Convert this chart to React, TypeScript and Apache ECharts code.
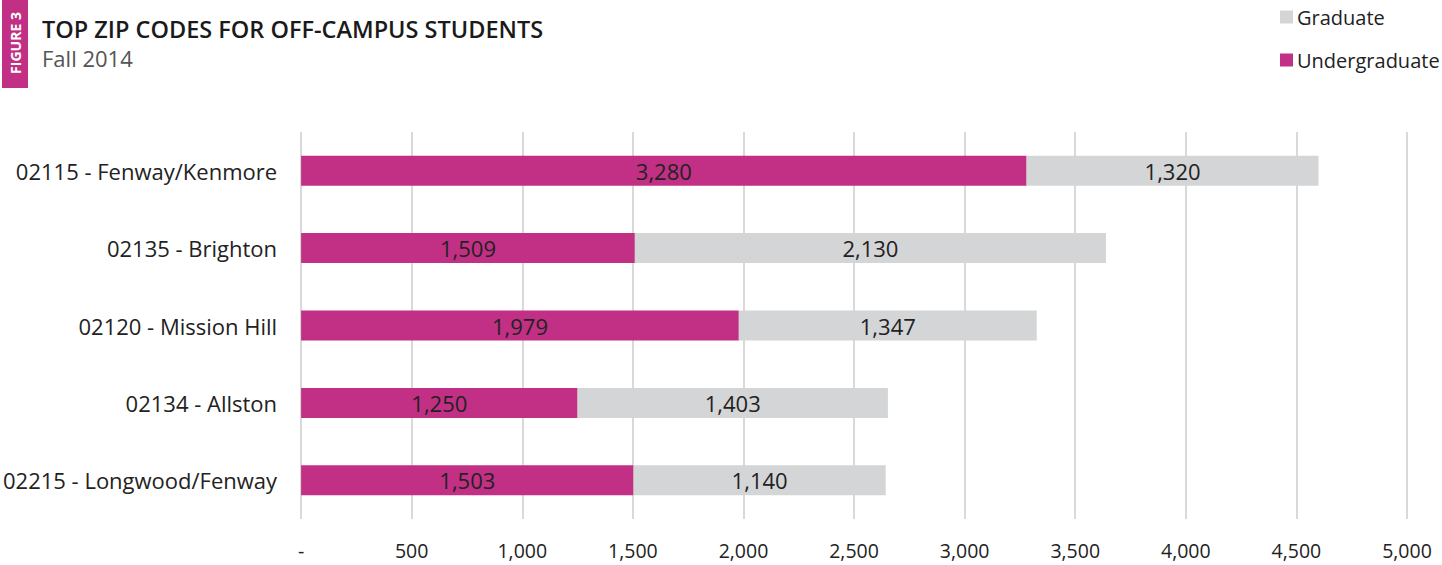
import React, { useEffect, useRef } from "react";
import * as echarts from "echarts";

const categories = [
  "02115 - Fenway/Kenmore",
  "02135 - Brighton",
  "02120 - Mission Hill",
  "02134 - Allston",
  "02215 - Longwood/Fenway",
];
const undergraduate = [3280, 1509, 1979, 1250, 1503];
const graduate = [1320, 2130, 1347, 1403, 1140];
const xTicks = { min: 0, max: 5000, interval: 500 };

const FONT = "'Open Sans', 'Noto Sans', sans-serif";
const MAGENTA = "#C13084";
const GRAY = "#D4D5D6";

const fmt = (v: number) => (v === 0 ? "-" : v.toLocaleString("en-US"));

export default function App() {
  const ref = useRef<HTMLDivElement>(null);
  useEffect(() => {
    if (!ref.current) return;
    const chart = echarts.init(ref.current, undefined, { renderer: "svg" });
    chart.setOption({
      animation: false,
      textStyle: { fontFamily: FONT },
      grid: { left: 300, right: 35, top: 132, bottom: 46, containLabel: false },
      legend: {
        data: ["Graduate", "Undergraduate"],
        orient: "vertical",
        left: 1275,
        top: 2,
        icon: "rect",
        itemWidth: 13,
        itemHeight: 13,
        itemGap: 23,
        selectedMode: false,
        textStyle: { fontSize: 20, color: "#222", fontFamily: FONT, padding: [0, 0, 0, -1] },
      },
      xAxis: {
        type: "value",
        min: xTicks.min,
        max: xTicks.max,
        interval: xTicks.interval,
        axisLine: { show: false },
        axisTick: { show: false },
        splitLine: { show: true, lineStyle: { color: "#D9D9D9", width: 2 } },
        axisLabel: {
          fontSize: 19.5,
          color: "#222",
          margin: 21,
          fontFamily: FONT,
          formatter: (v: number) => fmt(v),
        },
      },
      yAxis: {
        type: "category",
        data: categories,
        inverse: true,
        axisLine: { show: false },
        axisTick: { show: false },
        axisLabel: { fontSize: 22, color: "#222", margin: 24, fontFamily: FONT },
      },
      series: [
        {
          name: "Undergraduate",
          type: "bar",
          stack: "total",
          data: undergraduate,
          barWidth: 30,
          itemStyle: { color: MAGENTA },
          label: {
            show: true,
            position: "inside",
            color: "#222",
            fontSize: 22,
            fontFamily: FONT,
            formatter: (p: any) => fmt(p.value),
          },
        },
        {
          name: "Graduate",
          type: "bar",
          stack: "total",
          data: graduate,
          barWidth: 30,
          itemStyle: { color: GRAY },
          label: {
            show: true,
            position: "inside",
            color: "#222",
            fontSize: 22,
            fontFamily: FONT,
            formatter: (p: any) => fmt(p.value),
          },
        },
      ],
      graphic: [
        { type: "rect", shape: { x: 2, y: 0, width: 26, height: 88 }, style: { fill: MAGENTA } },
        {
          type: "text",
          x: 15,
          y: 43,
          rotation: Math.PI / 2,
          style: {
            text: "FIGURE 3",
            fill: "#fff",
            font: `bold 14px ${FONT}`,
            align: "center",
            verticalAlign: "middle",
          },
        },
        {
          type: "text",
          x: 42,
          y: 29,
          style: {
            text: "TOP ZIP CODES FOR OFF-CAMPUS STUDENTS",
            fill: "#1a1a1a",
            font: `600 23.5px ${FONT}`,
            lineHeight: 24,
            verticalAlign: "middle",
          },
        },
        {
          type: "text",
          x: 42,
          y: 58,
          style: {
            text: "Fall 2014",
            fill: "#555",
            font: `22px ${FONT}`,
            lineHeight: 22,
            verticalAlign: "middle",
          },
        },
      ],
    });
    return () => chart.dispose();
  }, []);
  return (
    <div
      ref={ref}
      style={{ position: "absolute", left: 0, top: 0, width: 1442, height: 565 }}
    />
  );
}
